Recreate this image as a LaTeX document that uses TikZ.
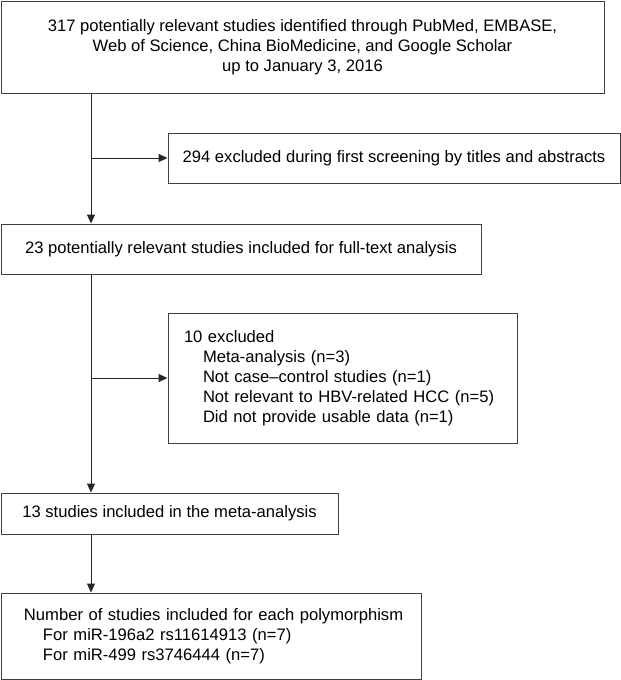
\documentclass[tikz,border=0pt]{standalone}
\usepackage{fontspec}
\setmainfont{Liberation Sans}
\usetikzlibrary{arrows.meta}
\begin{document}
\begin{tikzpicture}[x=1pt, y=1pt,
    box/.style = {draw=black!75, line width=1pt, inner sep=0pt, font=\fontsize{16.6}{20}\selectfont},
    arr/.style = {draw=black!85, line width=1pt, -{Triangle[length=9pt, width=8pt]}}]
    \useasboundingbox (0,0) rectangle (621,-680);
    % boxes
    \node[box, align=center, minimum width=603pt, minimum height=92pt] (search) at (302.5,-47)
        {317 potentially relevant studies identified through PubMed, EMBASE,\\
         Web of Science, China BioMedicine, and Google Scholar\\
         up to January 3, 2016};
    \node[box, minimum width=452pt, minimum height=50pt] (screen) at (394,-158)
        {294 excluded during first screening by titles and abstracts};
    \node[box, minimum width=480pt, minimum height=50pt] (fulltext) at (241,-249)
        {23 potentially relevant studies included for full-text analysis};
    \node[box, align=left, text width=317pt, inner xsep=16pt, minimum height=130pt] (exclude) at (342.5,-378)
        {10 excluded\\
         \hspace*{19pt}Meta-analysis (n=3)\\
         \hspace*{19pt}Not case–control studies (n=1)\\
         \hspace*{19pt}Not relevant to HBV-related HCC (n=5)\\
         \hspace*{19pt}Did not provide usable data (n=1)};
    \node[box, minimum width=337pt, minimum height=41pt] (metaan) at (169.5,-513.5)
        {13 studies included in the meta-analysis};
    \node[box, align=left, text width=390pt, inner xsep=15pt, minimum height=86pt] (poly) at (211,-636)
        {\hspace*{8pt}Number of studies included for each polymorphism\\
         \hspace*{27pt}For miR-196a2 rs11614913 (n=7)\\
         \hspace*{27pt}For miR-499 rs3746444 (n=7)};
    % connectors
    \coordinate (j1) at (91,-158);
    \coordinate (j2) at (91,-378);
    \draw[arr] (search.south -| j1) -- (fulltext.north -| j1);
    \draw[arr] (j1) -- (screen.west);
    \draw[arr] (fulltext.south -| j2) -- (metaan.north -| j2);
    \draw[arr] (j2) -- (exclude.west);
    \draw[arr] (metaan.south -| j2) -- (poly.north -| j2);
\end{tikzpicture}
\end{document}
